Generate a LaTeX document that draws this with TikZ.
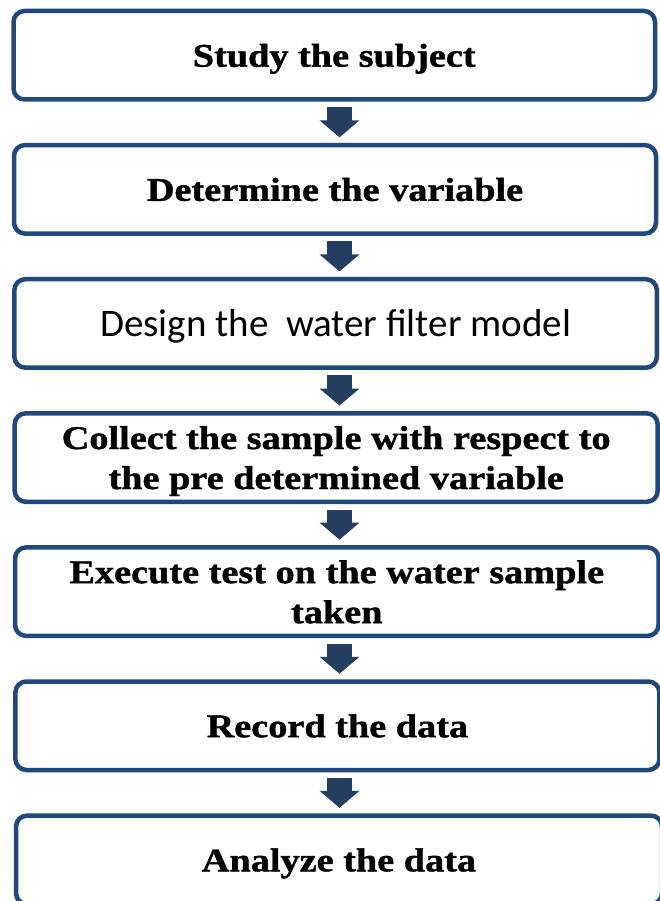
\documentclass[tikz,border=0pt]{standalone}
\usepackage{fontspec}
\usetikzlibrary{arrows.meta}
\newfontfamily\tnr{Liberation Serif}[FakeStretch=1.16,FakeBold=1.2]
\newfontfamily\calfont{Carlito}
\definecolor{boxblue}{HTML}{1F497D}
\definecolor{arrowblue}{HTML}{243F60}
\tikzset{
  stepbox/.style={draw=boxblue, line width=4.5pt, rounded corners=11pt, fill=white,
    inner sep=0pt, align=center, text depth=0pt, font=\tnr\bfseries\fontsize{33}{40}\selectfont},
  flowarrow/.style={draw=arrowblue, line width=25pt,
    -{Triangle[width=39pt,length=17pt]}, shorten <=5.5pt, shorten >=5.5pt}
}
\begin{document}
\begin{tikzpicture}[x=1pt,y=-1pt]
\useasboundingbox (0,0) rectangle (660,901);
\clip (0,0) rectangle (660,901);
\fill[white] (0,0) rectangle (660,901);
\coordinate (ax) at (339.5,0);
\node[stepbox, minimum width=641.5pt, minimum height=88.5pt] (b1) at (334.25,55.25) {Study the subject};
\node[stepbox, minimum width=642pt, minimum height=88.5pt] (b2) at (335.0,189.35) {Determine the variable};
\node[stepbox, minimum width=642.5pt, minimum height=88.5pt, font=\calfont\fontsize{39}{45}\selectfont] (b3) at (335.6,323.45) {Design the\ \ water filter model};
\node[stepbox, minimum width=643pt, minimum height=88.5pt] (b4) at (336.2,457.55) {Collect the sample with respect to\\the pre determined variable};
\node[stepbox, minimum width=643.5pt, minimum height=88.5pt] (b5) at (336.8,591.65) {Execute test on the water sample\\taken};
\node[stepbox, minimum width=644pt, minimum height=88.5pt] (b6) at (337.4,725.75) {Record the data};
\node[stepbox, minimum width=646pt, minimum height=88.5pt] (b7) at (339.0,859.85) {Analyze the data};
\foreach \a/\b in {b1/b2,b2/b3,b3/b4,b4/b5,b5/b6,b6/b7}{
  \draw[flowarrow] (\a.south -| ax) -- (\b.north -| ax);
}
\end{tikzpicture}
\end{document}
